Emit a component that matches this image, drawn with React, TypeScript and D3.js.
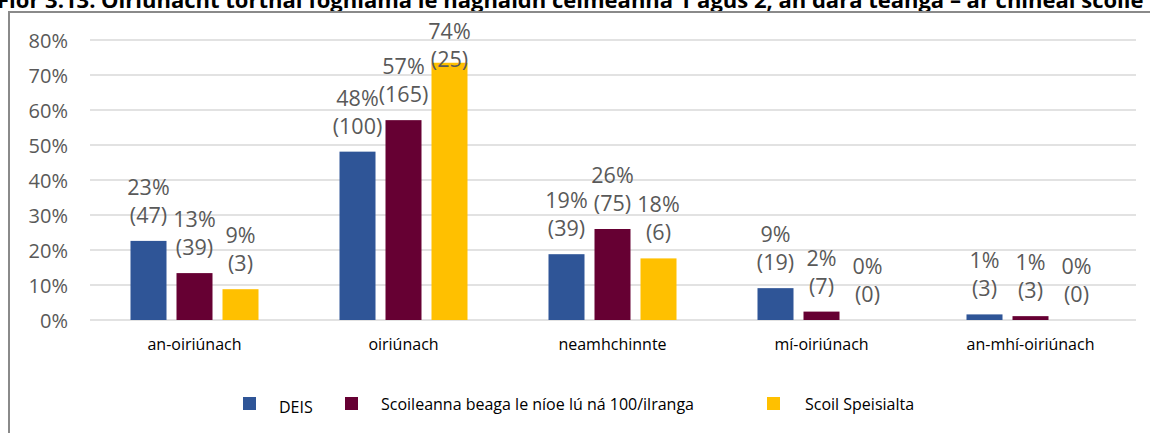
import React from "react";
import * as d3 from "d3";

const title =
  "Fíor 3.13: Oiriúnacht torthaí foghlama le haghaidh céimeanna 1 agus 2, an dara teanga – ar chineál scoile";

const categories = ["an-oiriúnach", "oiriúnach", "neamhchinnte", "mí-oiriúnach", "an-mhí-oiriúnach"];
const seriesNames = ["DEIS", "Scoileanna beaga le níoe lú ná 100/ilranga", "Scoil Speisialta"];
const seriesColors = ["#2F5597", "#660033", "#FFC000"];

const deisPct = [22.6, 48.1, 18.8, 9.1, 1.6];
const smallPct = [13.4, 57.1, 26.0, 2.4, 1.1];
const specialPct = [8.8, 73.5, 17.6, 0, 0];

const deisLabels = ["23%", "48%", "19%", "9%", "1%"];
const smallLabels = ["13%", "57%", "26%", "2%", "1%"];
const specialLabels = ["9%", "74%", "18%", "0%", "0%"];

const deisCounts = [47, 100, 39, 19, 3];
const smallCounts = [39, 165, 75, 7, 3];
const specialCounts = [3, 25, 6, 0, 0];

const yTicks = [0, 10, 20, 30, 40, 50, 60, 70, 80];

const W = 1150;
const H = 433;
const FONT = "'Open Sans', sans-serif";

export default function App() {
  const values = [deisPct, smallPct, specialPct];
  const pctLabels = [deisLabels, smallLabels, specialLabels];
  const counts = [deisCounts, smallCounts, specialCounts];

  const x0 = d3.scaleBand<string>().domain(categories).range([90, 1135]);
  const x1 = d3
    .scaleBand<string>()
    .domain(seriesNames)
    .range([-69, 69])
    .paddingInner(10 / 46)
    .paddingOuter(5 / 46);
  const y = d3.scaleLinear().domain([0, 80]).range([320, 40]);

  const legendX = [243, 345, 767];

  return (
    <svg
      width={W}
      height={H}
      style={{ position: "absolute", left: 0, top: 0, background: "#fff" }}
      fontFamily={FONT}
    >
      <rect x={0} y={0} width={W} height={H} fill="#fff" />
      <text x={-3} y={8} fontSize={22} fontWeight="bold" fill="#000">
        {title}
      </text>
      <rect x={9} y={12} width={1300} height={600} fill="none" stroke="#8a8a8a" strokeWidth={2} />

      {yTicks.map((t) => (
        <g key={t}>
          <line x1={90} x2={1136} y1={y(t)} y2={y(t)} stroke="#D9D9D9" strokeWidth={1.3} />
          <text
            x={68}
            y={y(t)}
            textAnchor="end"
            dominantBaseline="central"
            fontSize={20}
            fill="#595959"
          >
            {t}%
          </text>
        </g>
      ))}

      {categories.map((c, ci) => {
        const cx = (x0(c) as number) + x0.bandwidth() / 2;
        return (
          <g key={c}>
            {seriesNames.map((s, si) => {
              const v = values[si][ci];
              const bx = cx + (x1(s) as number);
              const bw = x1.bandwidth();
              const top = y(v);
              const first = Math.max(top - 46, 39);
              return (
                <g key={s}>
                  {v > 0 && (
                    <rect x={bx} y={top} width={bw} height={y(0) - top} fill={seriesColors[si]} />
                  )}
                  <text
                    x={bx + bw / 2}
                    y={first}
                    textAnchor="middle"
                    fontSize={21.5}
                    fill="#595959"
                  >
                    {pctLabels[si][ci]}
                  </text>
                  <text
                    x={bx + bw / 2}
                    y={first + 28}
                    textAnchor="middle"
                    fontSize={21.5}
                    fill="#595959"
                  >
                    ({counts[si][ci]})
                  </text>
                </g>
              );
            })}
            <text x={cx} y={350} textAnchor="middle" fontSize={16} fill="#000">
              {c}
            </text>
          </g>
        );
      })}

      {seriesNames.map((s, si) => (
        <g key={s}>
          <rect x={legendX[si]} y={397} width={13} height={13} fill={seriesColors[si]} />
          <text x={legendX[si] + (si === 2 ? 38 : 36)} y={si === 0 ? 413 : 410} fontSize={16} fill="#000">
            {s}
          </text>
        </g>
      ))}
    </svg>
  );
}
